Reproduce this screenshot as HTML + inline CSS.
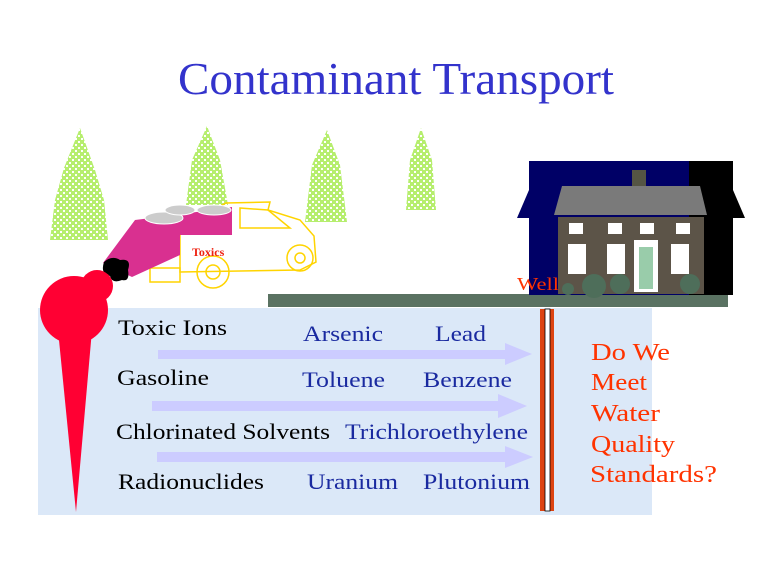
<!DOCTYPE html>
<html><head><meta charset="utf-8"><style>
html,body{margin:0;padding:0;background:#fff;}
svg{display:block;}
</style></head><body>
<svg width="768" height="576" viewBox="0 0 768 576" xmlns="http://www.w3.org/2000/svg">
<defs>
<pattern id="sp" width="6" height="6" patternUnits="userSpaceOnUse">
<rect width="6" height="6" fill="#b6ee6e"/><rect x="3" y="0" width="2" height="2" fill="#fff"/><rect x="0" y="3" width="2" height="2" fill="#fff"/>
</pattern>
</defs>
<rect width="768" height="576" fill="#fff"/>
<text x="178" y="94" textLength="436" lengthAdjust="spacingAndGlyphs" font-family="Liberation Serif, serif" font-size="46" fill="#3333cc">Contaminant Transport</text>

<!-- trees -->
<g fill="url(#sp)">
<path d="M80,128 L95,170 L104,200 L108,240 L50,240 L55,200 L64,168 Z"/>
<path d="M207,126 L220,160 L228,205 L186,205 L192,160 Z"/>
<path d="M327,130 L340,165 L347,222 L305,222 L312,165 Z"/>
<path d="M421,128 L432,160 L436,210 L406,210 L410,160 Z"/>
</g>

<rect x="38" y="308" width="614" height="207" fill="#dbe8f8"/>
<rect x="268" y="294" width="460" height="13" fill="#5a7262"/>

<!-- truck outline -->
<g fill="none" stroke="#ffd400" stroke-width="1.5">
<path d="M180,228 L226,203 L270,202 L268,210 L300,220 L314,236 L316,262 L300,270 L180,272 Z"/>
<path d="M240,208 L268,210 L290,228 L240,228 Z"/>
<circle cx="213" cy="272" r="16"/><circle cx="213" cy="272" r="7"/>
<circle cx="300" cy="258" r="13"/><circle cx="300" cy="258" r="5"/>
<path d="M150,268 L180,268 L180,282 L150,282 Z"/>
</g>
<polygon points="103,263 135,220 175,215 232,207 232,235 180,235 180,255 132,277" fill="#d93090"/>
<ellipse cx="164" cy="218" rx="19" ry="6" fill="#ccc" stroke="#fff"/>
<ellipse cx="180" cy="210" rx="15" ry="5" fill="#ccc" stroke="#fff"/>
<ellipse cx="214" cy="210" rx="17" ry="5" fill="#ccc" stroke="#fff"/>
<text x="192" y="256" font-family="Liberation Serif, serif" font-size="12" font-weight="bold" fill="#ee2211">Toxics</text>
<path d="M104,262 Q112,255 120,260 Q132,258 128,270 Q130,282 122,280 Q112,284 110,276 Q100,274 104,262 Z" fill="#000"/>

<g fill="#ff0033">
<circle cx="97" cy="286" r="16"/>
<circle cx="74" cy="310" r="34"/>
<polygon points="58,330 92,330 76,512"/>
</g>

<!-- house -->
<rect x="529" y="161" width="170" height="134" fill="#000066"/>
<rect x="689" y="161" width="44" height="134" fill="#000"/>
<polygon points="529,190 517,218 529,218" fill="#000066"/>
<polygon points="733,190 745,218 733,218" fill="#000"/>
<rect x="632" y="170" width="14" height="18" fill="#554"/>
<rect x="628" y="186" width="22" height="4" fill="#fff"/>
<polygon points="562,186 700,186 707,215 554,215" fill="#7a7a7a"/>
<rect x="558" y="217" width="146" height="77" fill="#5c5448"/>
<g fill="#fff">
<rect x="569" y="223" width="14" height="11"/><rect x="608" y="223" width="14" height="11"/><rect x="640" y="223" width="14" height="11"/><rect x="676" y="223" width="14" height="11"/>
<rect x="568" y="244" width="18" height="30"/><rect x="607" y="244" width="18" height="30"/><rect x="671" y="244" width="18" height="30"/>
<rect x="634" y="240" width="24" height="52"/>
</g>
<rect x="639" y="247" width="14" height="42" fill="#99ccaa"/>
<g fill="#4e6e5a"><circle cx="594" cy="286" r="12"/><circle cx="620" cy="284" r="10"/><circle cx="690" cy="284" r="10"/><circle cx="568" cy="289" r="6"/></g>
<text x="517" y="290" textLength="42" lengthAdjust="spacingAndGlyphs" font-family="Liberation Serif, serif" font-size="18" fill="#ff3300">Well</text>

<rect x="540" y="309" width="14" height="202" fill="#dd4411"/>
<rect x="545" y="309" width="5" height="202" fill="#fff" stroke="#000" stroke-width="0.8"/>

<g fill="#ccccff">
<rect x="158" y="350" width="350" height="9"/><polygon points="505,343 532,354 505,365"/>
<rect x="152" y="401" width="350" height="10"/><polygon points="498,394 527,406 498,418"/>
<rect x="157" y="452" width="352" height="10"/><polygon points="505,446 533,457 505,468"/>
</g>

<g font-family="Liberation Serif, serif" font-size="22" lengthAdjust="spacingAndGlyphs">
<text x="118" y="335" textLength="109" lengthAdjust="spacingAndGlyphs" fill="#000">Toxic Ions</text>
<text x="303" y="341" textLength="80" lengthAdjust="spacingAndGlyphs" fill="#1a2aa0">Arsenic</text>
<text x="435" y="341" textLength="51" lengthAdjust="spacingAndGlyphs" fill="#1a2aa0">Lead</text>
<text x="117" y="385" textLength="92" lengthAdjust="spacingAndGlyphs" fill="#000">Gasoline</text>
<text x="302" y="387" textLength="83" lengthAdjust="spacingAndGlyphs" fill="#1a2aa0">Toluene</text>
<text x="423" y="387" textLength="89" lengthAdjust="spacingAndGlyphs" fill="#1a2aa0">Benzene</text>
<text x="116" y="439" textLength="214" lengthAdjust="spacingAndGlyphs" fill="#000">Chlorinated Solvents</text>
<text x="345" y="439" textLength="183" lengthAdjust="spacingAndGlyphs" fill="#1a2aa0">Trichloroethylene</text>
<text x="118" y="489" textLength="146" lengthAdjust="spacingAndGlyphs" fill="#000">Radionuclides</text>
<text x="307" y="489" textLength="91" lengthAdjust="spacingAndGlyphs" fill="#1a2aa0">Uranium</text>
<text x="423" y="489" textLength="107" lengthAdjust="spacingAndGlyphs" fill="#1a2aa0">Plutonium</text>
</g>
<g font-family="Liberation Serif, serif" font-size="24" fill="#ff3300">
<text x="591" y="360" textLength="79" lengthAdjust="spacingAndGlyphs">Do We</text>
<text x="591" y="390" textLength="56" lengthAdjust="spacingAndGlyphs">Meet</text>
<text x="591" y="421" textLength="69" lengthAdjust="spacingAndGlyphs">Water</text>
<text x="591" y="452" textLength="84" lengthAdjust="spacingAndGlyphs">Quality</text>
<text x="590" y="482" textLength="127" lengthAdjust="spacingAndGlyphs">Standards?</text>
</g>
</svg>
</body></html>
